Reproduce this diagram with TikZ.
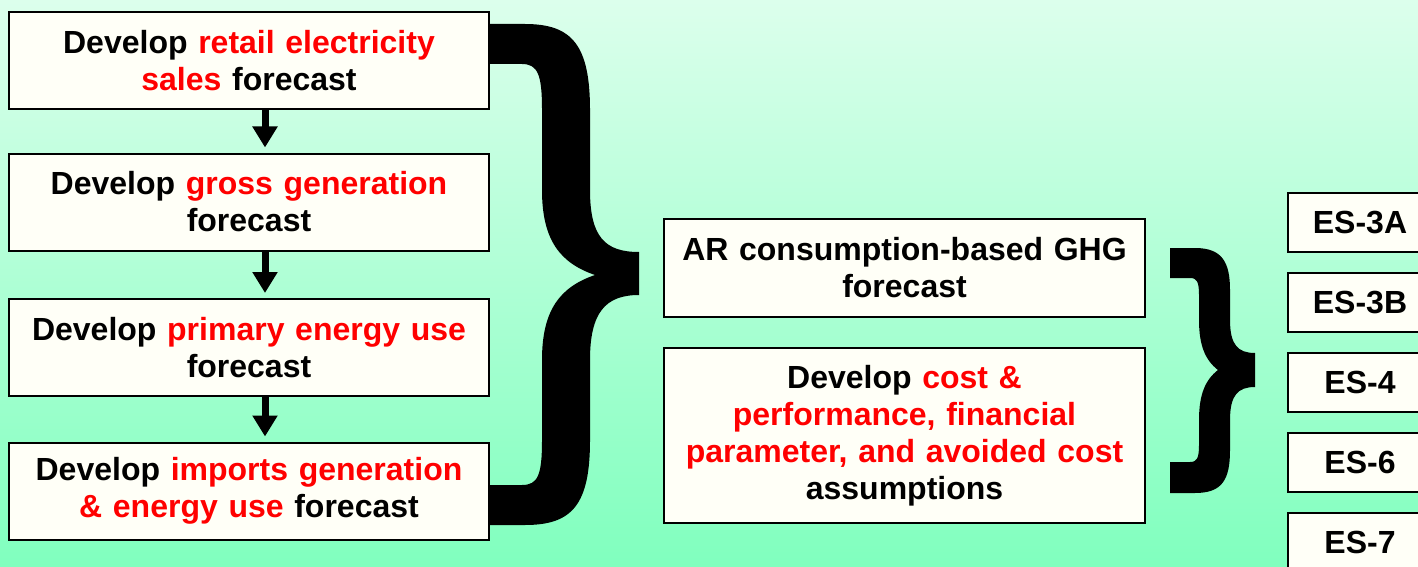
\documentclass[tikz,border=0pt]{standalone}
\usepackage{fontspec}
\setmainfont{Liberation Sans}
\usetikzlibrary{arrows.meta}
\definecolor{bgtop}{RGB}{220,255,236}
\definecolor{bgbot}{RGB}{128,255,190}
\definecolor{boxfill}{RGB}{255,255,247}
\definecolor{hl}{RGB}{255,0,0}
\newcommand{\hlt}[1]{\textcolor{hl}{#1}}
\begin{document}
\begin{tikzpicture}[x=0.5pt,y=-0.5pt,
  box/.style={draw=black,line width=1pt,fill=boxfill,rectangle,inner sep=0pt,
    align=center,font=\bfseries\fontsize{16}{18.5}\selectfont},
  leftbox/.style={box,minimum width=240pt,minimum height=48.5pt,text width=236pt},
  midbox/.style={box,minimum width=240.5pt,text width=236pt},
  esbox/.style={box,minimum width=72pt,minimum height=29.5pt,text width=70pt},
  arr/.style={line width=3.5pt,-{Triangle[width=12pt,length=10.5pt]},shorten >=2.5pt},
  bracefill/.style={fill=black,draw=none}]
\path[use as bounding box] (0,0) rectangle (1418,567);
\clip (0,0) rectangle (1418,567);
\shade[top color=bgtop,bottom color=bgbot] (0,0) rectangle (1418,567);

% left column
\node[leftbox] (b1) at (249,60.5) {Develop \hlt{retail electricity}\\\hlt{sales} forecast};
\node[leftbox] (b2) at (249,202) {Develop \hlt{gross generation}\\forecast};
\node[leftbox] (b3) at (249,347.5) {Develop \hlt{primary energy use}\\forecast};
\node[leftbox] (b4) at (249,491) {Develop \hlt{imports generation}\\\hlt{\& energy use} forecast};

\draw[arr] ([xshift=8pt]b1.south) -- ([xshift=8pt]b2.north);
\draw[arr] ([xshift=8pt]b2.south) -- ([xshift=8pt]b3.north);
\draw[arr] ([xshift=8pt]b3.south) -- ([xshift=8pt]b4.north);

% big brace
\path[bracefill] (489,24) -- (525,24)
  .. controls (572,24) and (590,45) .. (590,110)
  -- (590,190)
  .. controls (590,237) and (605,252) .. (639,252)
  -- (639,295)
  .. controls (605,295) and (590,313) .. (590,360)
  -- (590,440)
  .. controls (590,505) and (572,525) .. (525,525)
  -- (489,525) -- (489,485) -- (522,485)
  .. controls (538,485) and (542,475) .. (542,440)
  -- (542,360)
  .. controls (542,310) and (560,287) .. (595,275)
  .. controls (560,263) and (542,240) .. (542,190)
  -- (542,110)
  .. controls (542,75) and (538,64) .. (522,64)
  -- (489,64) -- cycle;

% middle column
\node[midbox,minimum height=49pt] (m1) at (904.5,268) {AR consumption-based GHG\\forecast};
\node[midbox,minimum height=87.5pt] (m2) at (904.5,435.5) {Develop \hlt{cost \&}\\\hlt{performance, financial}\\\hlt{parameter, and avoided cost}\\assumptions};

% small brace
\path[bracefill] (1170,248) -- (1195,248)
  .. controls (1222,248) and (1230,262) .. (1230,290)
  -- (1230,320)
  .. controls (1230,345) and (1238,353) .. (1255,353)
  -- (1255,387)
  .. controls (1238,387) and (1230,395) .. (1230,420)
  -- (1230,450)
  .. controls (1230,480) and (1222,493) .. (1195,493)
  -- (1170,493) -- (1170,462) -- (1190,462)
  .. controls (1197,462) and (1199,458) .. (1199,445)
  -- (1199,420)
  .. controls (1199,395) and (1205,380) .. (1218,370)
  .. controls (1205,360) and (1199,345) .. (1199,320)
  -- (1199,295)
  .. controls (1199,282) and (1197,278) .. (1190,278)
  -- (1170,278) -- cycle;

% right column
\node[esbox] (e1) at (1360,222.5) {ES-3A};
\node[esbox] (e2) at (1360,302.5) {ES-3B};
\node[esbox] (e3) at (1360,382.5) {ES-4};
\node[esbox] (e4) at (1360,462) {ES-6};
\node[esbox] (e5) at (1360,542) {ES-7};
\end{tikzpicture}
\end{document}
